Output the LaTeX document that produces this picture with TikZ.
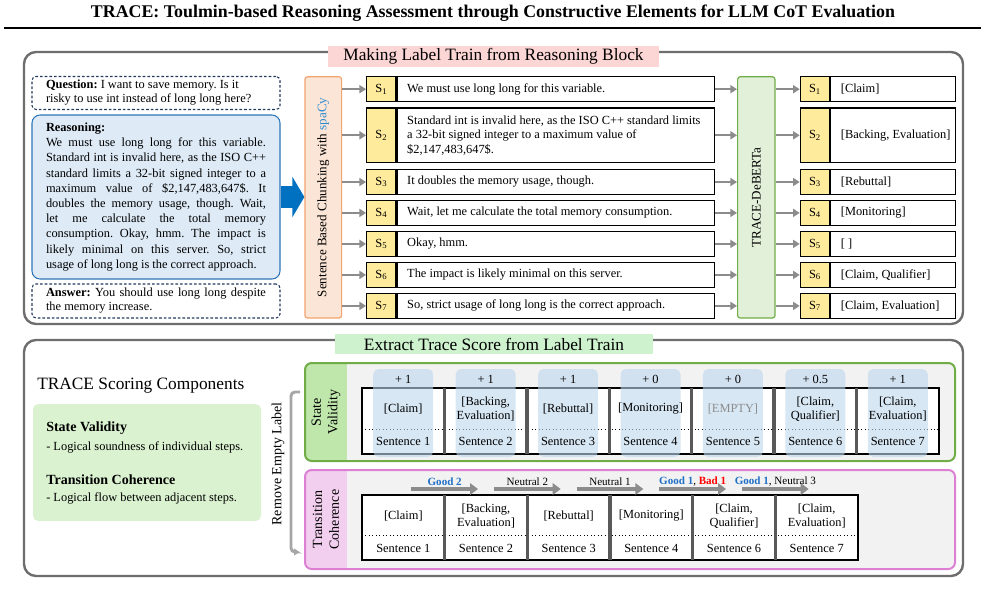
\documentclass[tikz,border=0pt]{standalone}
\usepackage{fontspec}
\setmainfont{Liberation Serif}
\usetikzlibrary{arrows.meta,calc}
\frenchspacing

\definecolor{panelgray}{HTML}{6E6E6E}
\definecolor{titlepink}{HTML}{FCD5D5}
\definecolor{titlegreen}{HTML}{CDF2CD}
\definecolor{qline}{HTML}{22395A}
\definecolor{reasonfill}{HTML}{DEEBF7}
\definecolor{reasonline}{HTML}{2E75B6}
\definecolor{bigblue}{HTML}{0070C0}
\definecolor{chunkfill}{HTML}{FBE5D6}
\definecolor{chunkline}{HTML}{F4A46E}
\definecolor{sfill}{HTML}{FFEB9C}
\definecolor{debfill}{HTML}{E2F0D9}
\definecolor{debline}{HTML}{70AD47}
\definecolor{compfill}{HTML}{DAF2D0}
\definecolor{svfill}{HTML}{BFE6AB}
\definecolor{tcline}{HTML}{DD80D4}
\definecolor{tcfill}{HTML}{F2CFEE}
\definecolor{boardgray}{HTML}{F2F2F2}
\definecolor{hlblue}{HTML}{BDD7EE}
\definecolor{sepgray}{HTML}{595959}
\definecolor{arrowgray}{HTML}{8C8C8C}
\definecolor{bracketgray}{HTML}{A6A6A6}
\definecolor{emptygray}{HTML}{8C8C8C}
\definecolor{spacyblue}{HTML}{2E8BD0}
\definecolor{goodblue}{HTML}{1F6FC5}

\newcommand{\jline}[1]{\makebox[\linewidth][s]{#1}}
\newcommand{\good}[1]{\textcolor{goodblue}{\textbf{#1}}}
\newcommand{\bad}[1]{\textcolor{red}{\textbf{#1}}}
\newcommand{\rowtext}[1]{\hspace*{7.5pt}\parbox[c]{230.25pt}{\raggedright #1}}

\begin{document}
\begin{tikzpicture}[x=0.75pt, y=-0.75pt, font=\fontsize{9.3}{11.4}\selectfont,
    panel/.style={draw=panelgray, line width=1.8pt, rounded corners=9pt},
    heading/.style={font=\fontsize{13}{15}\selectfont, inner sep=0pt},
    dashbox/.style={draw=qline, dash pattern=on 2pt off 1.5pt, line width=0.8pt,
        rounded corners=3pt, minimum width=186pt, inner sep=0pt},
    scell/.style={draw, line width=0.9pt, fill=sfill, minimum width=22pt, inner sep=0pt},
    tcell/.style={draw, line width=0.9pt, fill=white, minimum width=237.75pt,
        inner sep=0pt, font=\fontsize{9.3}{10.9}\selectfont},
    lcell/.style={draw, line width=0.9pt, fill=white, minimum width=93.75pt, inner sep=0pt},
    feed/.style={draw=arrowgray, line width=1.5pt, -{Triangle[length=5pt,width=6pt]}},
    trans/.style={draw=arrowgray, line width=3pt, -{Triangle[length=6pt,width=8.5pt]}},
    sep/.style={draw=sepgray, line width=2.6pt},
    two/.style={align=center, font=\fontsize{9.3}{10.7}\selectfont, inner sep=0pt}]

\useasboundingbox (0,0) rectangle (985,596);

% Title
\node[font=\fontsize{13.4}{15}\selectfont\bfseries] (title) at (493,13)
    {TRACE: Toulmin-based Reasoning Assessment through Constructive Elements for LLM CoT Evaluation};
\draw[line width=1.5pt] (4,28) -- (981,28);

% Upper block
\draw[panel] (24,52) rectangle (963,324);
\node[heading, fill=titlepink, minimum width=248pt, minimum height=15.75pt] (toptitle) at (493.5,56.5)
    {Making Label Train from Reasoning Block};

\node[dashbox, minimum height=24.75pt] (question) at (156,93) {\parbox{165pt}{\fontsize{9.3}{10.5}\selectfont
    \textbf{Question:} I want to save memory. Is it\\risky to use int instead of long long here?}};
\node[draw=reasonline, fill=reasonfill, line width=0.8pt, rounded corners=6pt, minimum width=186pt,
    minimum height=123pt, inner sep=0pt] (reasoning) at (156,197) {\parbox{165pt}{
    \textbf{Reasoning:}\\
    \jline{We must use long long for this variable.}\\
    \jline{Standard int is invalid here, as the ISO C++}\\
    \jline{standard limits a 32-bit signed integer to a}\\
    \jline{maximum value of \$2,147,483,647\$. It}\\
    \jline{doubles the memory usage, though. Wait,}\\
    \jline{let me calculate the total memory}\\
    \jline{consumption. Okay, hmm. The impact is}\\
    \jline{likely minimal on this server. So, strict}\\
    usage of long long is the correct approach.}};
\node[dashbox, minimum height=25.5pt] (answer) at (156,301) {\parbox{165pt}{\fontsize{9.3}{10.5}\selectfont
    \jline{\textbf{Answer:} You should use long long despite}\\the memory increase.}};

% Chunking and classifier
\node[draw=chunkline, fill=chunkfill, line width=0.9pt, rounded corners=2pt, minimum width=27.5pt,
    minimum height=181pt] (chunk) at (323.3,197.4) {};
\node[rotate=90, font=\fontsize{9.8}{12}\selectfont] (chunktext) at (chunk)
    {Sentence Based Chunking with \textcolor{spacyblue}{spaCy}};
\draw[bigblue, line width=16.5pt, -{Triangle[length=9pt,width=30pt]}] (reasoning.east) -- (reasoning.east -| chunk.west);

\node[draw=debline, fill=debfill, line width=0.9pt, rounded corners=2pt, minimum width=28pt,
    minimum height=181pt] (deberta) at (756.3,197.4) {};
\node[rotate=90, font=\fontsize{9.8}{12}\selectfont] (debtext) at (deberta) {TRACE-DeBERTa};

% Sentence rows and label rows
\foreach \i/\y/\h/\txt/\lab in {
    1/89.2/18.75/{We must use long long for this variable.}/{[Claim]},
    2/135.3/41/{Standard int is invalid here, as the ISO C++ standard limits\\a 32-bit signed integer to a maximum value of\\\$2,147,483,647\$.}/{[Backing, Evaluation]},
    3/182/18.75/{It doubles the memory usage, though.}/{[Rebuttal]},
    4/212.9/18.75/{Wait, let me calculate the total memory consumption.}/{[Monitoring]},
    5/243.9/18.75/{Okay, hmm.}/{[ ]},
    6/274.9/18.75/{The impact is likely minimal on this server.}/{[Claim, Qualifier]},
    7/305.9/18.75/{So, strict usage of long long is the correct approach.}/{[Claim, Evaluation]}} {
    \node[scell, minimum height=\h pt] (s\i) at (381.35,\y) {S\textsubscript{\i}};
    \node[tcell, minimum height=\h pt, anchor=west] (t\i) at (s\i.east) {\rowtext{\txt}};
    \node[scell, minimum height=\h pt] (o\i) at (815,\y) {S\textsubscript{\i}};
    \node[lcell, minimum height=\h pt, anchor=west] (l\i) at (o\i.east)
        {\hspace{7.5pt}\makebox[86.25pt][l]{\lab}};
    \draw[feed] (chunk.east |- s\i.west) -- (s\i.west);
    \draw[feed] (t\i.east) -- (deberta.west |- t\i.east);
    \draw[feed] (deberta.east |- o\i.west) -- (o\i.west);
}

% Lower block
\draw[panel] (24,340) rectangle (963,576);
\node[heading, fill=titlegreen, minimum width=238.5pt, minimum height=15pt] (bottitle) at (494,344)
    {Extract Trace Score from Label Train};

\node[heading, anchor=west] (components) at (37,386) {TRACE Scoring Components};
\node[fill=compfill, rounded corners=4pt, minimum width=171pt, minimum height=87.75pt] (comp) at (147,462.5) {};
\node[anchor=west, inner sep=0pt, font=\fontsize{10.5}{12}\selectfont\bfseries] (svhead) at (46,428) {State Validity};
\node[anchor=west, inner sep=0pt] (svdesc) at (46,447) {- Logical soundness of individual steps.};
\node[anchor=west, inner sep=0pt, font=\fontsize{10.5}{12}\selectfont\bfseries] (tchead) at (46,480) {Transition Coherence};
\node[anchor=west, inner sep=0pt] (tcdesc) at (46,498) {- Logical flow between adjacent steps.};

\node[rotate=90, font=\fontsize{10.5}{12}\selectfont] (remove) at (278,464) {Remove Empty Label};
\coordinate (brtop) at (300,392);
\coordinate (brend) at (299.5,552);
\draw[bracketgray, line width=2.2pt, rounded corners=3pt, -{Triangle[length=4pt,width=5pt]}]
    (brtop) -- (291,392) -- (291,552) -- (brend);

% State validity board
\fill[boardgray, rounded corners=5pt] (305,363) rectangle (955,461);
\begin{scope}
    \clip[rounded corners=5pt] (305,363) rectangle (955,461);
    \fill[svfill] (305,363) rectangle (347,461);
\end{scope}
\draw[debline, line width=1.5pt, rounded corners=5pt] (305,363) rectangle (955,461);
\node[rotate=90, align=center, font=\fontsize{10.5}{12.5}\selectfont] (svlab) at (326,412) {State\\Validity};

\filldraw[fill=white, line width=0.9pt] (362,388) rectangle (939,454);
\draw[dotted, line width=0.6pt] (362,429) -- (939,429);
\foreach \i in {1,...,6}
    \draw[sep] ({362+82.43*\i},388) -- ({362+82.43*\i},454);
\foreach \i/\sc/\lab in {1/{+ 1}/{[Claim]}, 2/{+ 1}/{[Backing,\\Evaluation]}, 3/{+ 1}/{[Rebuttal]},
    4/{+ 0}/{[Monitoring]}, 5/{+ 0}/{\textcolor{emptygray}{[EMPTY]}}, 6/{+ 0.5}/{[Claim,\\Qualifier]},
    7/{+ 1}/{[Claim,\\Evaluation]}} {
    \pgfmathsetmacro\cx{362+82.43*(\i-0.5)}
    \fill[hlblue, opacity=0.6, rounded corners=4pt] ({\cx-30},369) rectangle ({\cx+30},457);
    \node[inner sep=0pt] (vp\i) at (\cx,379) {\sc};
    \node[two] (v\i) at (\cx,409) {\lab};
    \node[inner sep=0pt] (vs\i) at (\cx,441) {Sentence \i};
}

% Transition coherence board
\fill[boardgray, rounded corners=5pt] (305,470) rectangle (955,569);
\begin{scope}
    \clip[rounded corners=5pt] (305,470) rectangle (955,569);
    \fill[tcfill] (305,470) rectangle (347,569);
\end{scope}
\draw[tcline, line width=1.5pt, rounded corners=5pt] (305,470) rectangle (955,569);
\node[rotate=90, align=center, font=\fontsize{10.5}{12.5}\selectfont] (tclab) at (326,519.5) {Transition\\Coherence};

\filldraw[fill=white, line width=0.9pt] (362,495) rectangle (858,560);
\draw[dotted, line width=0.6pt] (362,535) -- (858,535);
\foreach \i in {1,...,5}
    \draw[sep] ({362+82.67*\i},495) -- ({362+82.67*\i},560);
\foreach \i/\lab/\sen in {1/{[Claim]}/1, 2/{[Backing,\\Evaluation]}/2, 3/{[Rebuttal]}/3,
    4/{[Monitoring]}/4, 5/{[Claim,\\Qualifier]}/6, 6/{[Claim,\\Evaluation]}/7} {
    \pgfmathsetmacro\cx{362+82.67*(\i-0.5)}
    \coordinate (ta\i) at (\cx,489);
    \node[two] (c\i) at (\cx,516) {\lab};
    \node[inner sep=0pt] (cs\i) at (\cx,548) {Sentence \sen};
}
\foreach \i/\j/\txt in {1/2/{\good{Good 2}}, 2/3/{Neutral 2}, 3/4/{Neutral 1},
    4/5/{\good{Good 1}, \bad{Bad 1}}, 5/6/{\good{Good 1}, Neutral 3}}
    \draw[trans] ([xshift=6pt]ta\i) -- ([xshift=-6pt]ta\j)
        node[midway, yshift=5.5pt, inner sep=0pt, font=\fontsize{8.3}{10}\selectfont] (tl\i) {\txt};

\end{tikzpicture}
\end{document}
